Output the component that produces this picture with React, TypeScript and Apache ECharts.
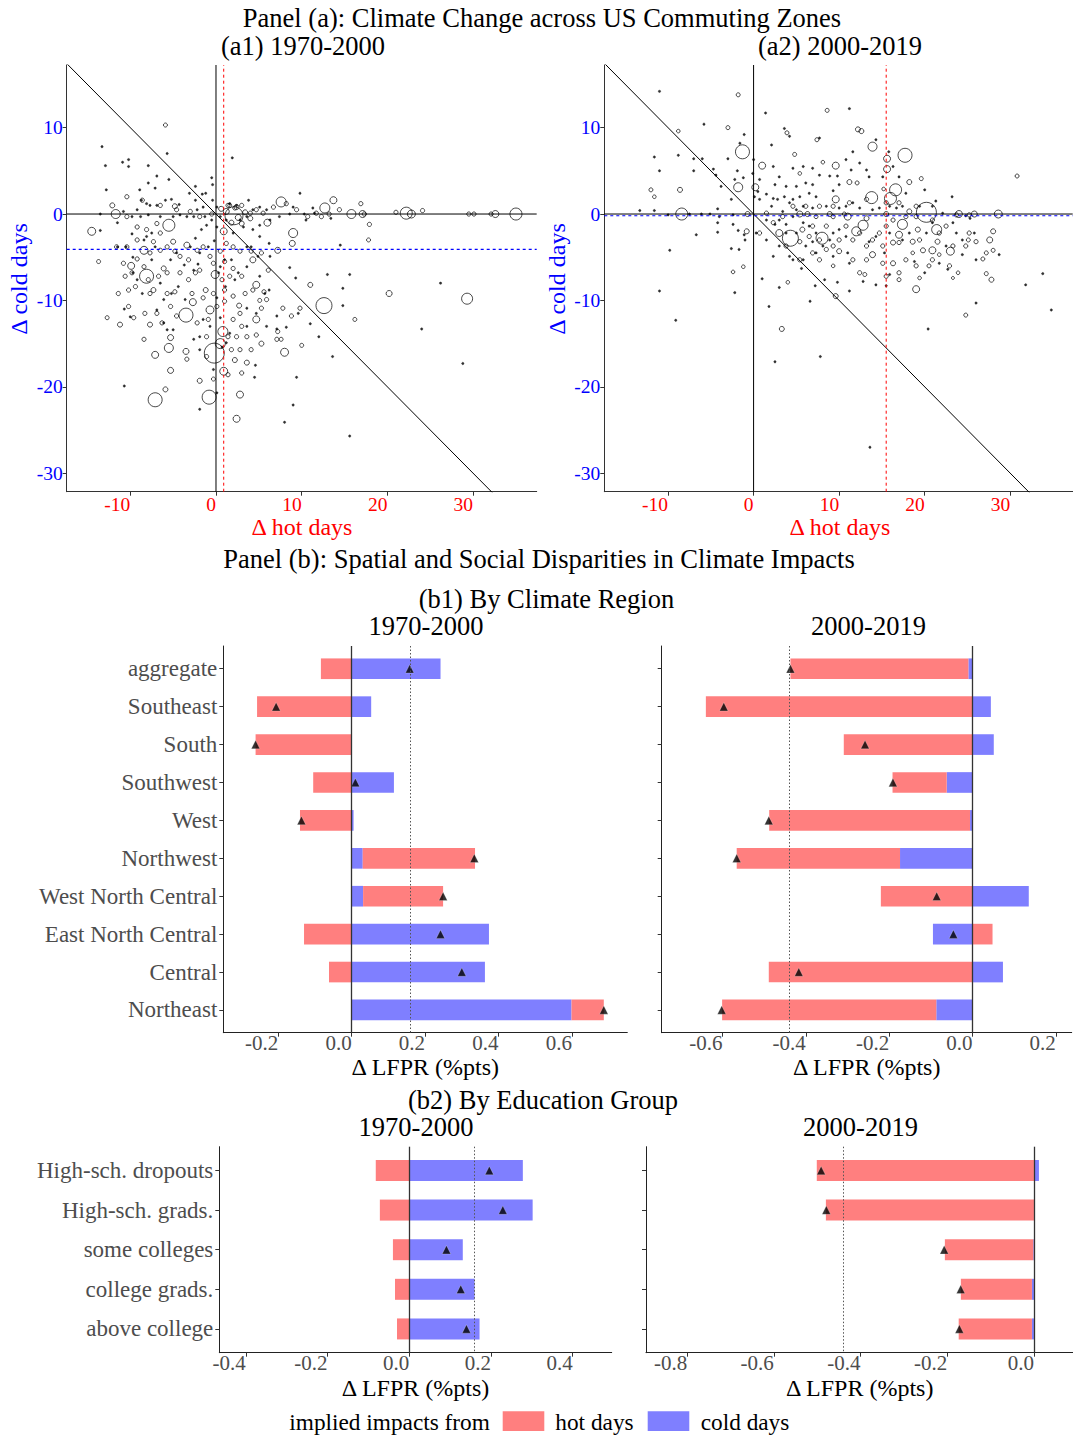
import React, { useEffect, useRef } from "react";
import * as echarts from "echarts";

const SERIF = '"Liberation Serif", "Times New Roman", Times, serif';

// ---------------- Panel (a): commuting-zone climate change ----------------
// point: [Δ hot days, Δ cold days, population weight (marker radius)]
const cz7000Big: number[][] = [
  [-0.2,-16.1,10],[2.1,-0.2,9],[12.6,-10.6,8],[-7.1,-21.5,7],[-0.8,-21.2,7],[-3.5,-11.7,7],[-8.1,-7.2,7],[-5.5,-1.3,6],
  [29.3,-9.8,5.5],[22.2,0.1,6],[35.0,0,6],[7.6,1.4,5],[0.8,-13.6,5],[0.5,-15.0,5],[9.0,-2.2,4.5],[-11.7,0,4.5],[12.7,0.7,5],
  [15.8,0,4.5],[-8.4,-4.2,4],[-5.5,-15.5,4.5],[8.0,-16.0,4],[-14.5,-2.0,4],[22.8,0,4],[32.6,0,3.5],[-0.1,-7.0,4],[2.4,-23.7,3.5],
  [2.8,-20.9,3.5],[0.9,-2.0,3.5],[-0.7,-11.1,4],[-2.7,-10.2,3.5],[4.7,-12.2,3.5],[4.7,-8.2,3.5],[-7.1,-16.3,3.5],[0.9,-18.2,4],
  [-9.9,-6.0,3.5],[13.7,1.6,3.5],[17.1,0,3.5],[6.0,-1.0,3.5],[7.2,-4.2,3],[20.2,-9.2,3],[11.0,-8.2,2.5],[4.3,-5.3,3],[-3.5,-15.9,3],
  [-5.3,-18.1,3],[-5.9,-20.3,2.5],[-1.9,-19.3,2.5],[5.3,-15.0,2.5],[8.9,-3.4,3],[-12.1,1.0,2.5],[-7.7,-12.8,2.5],[-11.2,-12.8,2.5],
  [-12.7,-12.0,2],[-13.7,-5.5,2],[-7.3,-8.8,2.5],[2.7,-10.6,2.5],[3.6,-17.2,2.5],[2.2,-16.9,2.5],[10.0,-15.2,2],[16.2,-12.2,2],
  [17.8,-3.0,2],[-5.9,10.3,2],[-0.3,-19.1,2],[-4.8,0.9,2.5],[-3.4,-3.6,3],[-6.1,-6.3,2.5],[-1.2,-8.8,2.5],[7.6,-14.5,2],
  [-5.3,-14.3,3],[5.1,-10.0,2],[-5.0,-3.2,2.5],[1.2,0.3,3],[2.6,-0.4,3],[3.4,0.2,2.5],[1.8,-1.0,2.5],[3.0,-1.1,2.5],[0.6,0.6,2.5],
  [2.4,0.8,2.5],[4.0,-0.5,2.5],[1.6,1.0,2]
];
const cz7000Mid: number[][] = [
  [-10.4,2.0],[-8.6,1.6],[-6.5,1.0],[-4.6,0.5],[-3.0,0.3],[-1.9,-0.3],[-0.5,0],[1.4,1.0],[2.2,0.7],[3.0,1.0],[4.0,0.1],[4.7,0.5],
  [5.5,0.1],[6.7,0.8],[8.2,1.2],[9.4,0.5],[10.7,-0.3],[11.7,0.1],[12.3,-0.3],[13.2,0],[14.4,0.5],[16.9,1.2],[17.3,0],[17.9,-1.2],
  [21.0,0.2],[24.1,0.4],[29.5,0],[30.1,0],[32.1,0],[-10.4,-0.3],[-9.2,-1.5],[-8.1,-1.8],[-6.9,-1.1],[-6.5,-2.2],[-7.3,-3.2],
  [-9.2,-3.0],[-10.4,-3.8],[-11.6,-3.8],[-10.8,-5.7],[-9.8,-6.8],[-9.4,-8.4],[-10.2,-8.8],[-8.4,-6.1],[-9.2,-5.2],[-7.7,-4.5],
  [-6.5,-4.2],[-5.7,-3.8],[-4.8,-4.3],[-4.2,-4.9],[-3.2,-5.3],[-2.2,-4.2],[-1.5,-3.8],[-0.7,-4.9],[-0.3,-5.7],[-1.9,-6.5],
  [-2.4,-6.8],[-3.2,-7.6],[-4.2,-6.8],[-5.7,-6.8],[-6.7,-7.2],[-7.9,-7.6],[-7.7,-9.2],[-5.7,-9.2],[-4.8,-9.0],[-2.8,-9.2],
  [-1.5,-9.7],[-0.3,-9.2],[1.0,-8.8],[2.0,-9.5],[3.4,-9.2],[4.3,-8.8],[5.6,-9.0],[5.9,-9.9],[5.3,-10.9],[2.8,-11.5],[2.0,-12.2],
  [3.0,-13.0],[1.4,-14.2],[2.4,-14.2],[3.6,-14.2],[4.7,-14.0],[7.2,-13.6],[7.8,-10.9],[9.8,-10.9],[6.1,-6.5],[5.3,-4.5],[4.1,-4.3],
  [2.8,-4.3],[2.0,-3.8],[1.2,-3.4],[0.5,-4.3],[1.0,-5.5],[2.0,-6.3],[3.0,-7.2],[1.6,-7.2],[0.7,-7.6],[0.1,-10.7],[1.0,-10.1],
  [-0.9,-12.2],[-2.2,-12.6],[-1.1,-14.2],[-4.6,-11.8],[-5.3,-10.7],[-6.3,-12.6],[-6.9,-11.5],[-8.3,-11.5],[-9.6,-12.0],[-10.6,-7.2],
  [-11.4,-9.2],[-10.2,-10.7],[-8.4,-14.5],[-1.1,-16.5],[-3.4,-16.8],[1.8,-15.7],[2.8,-15.7],[4.1,-15.7],[7.1,-14.5],[8.8,-11.8],
  [3.0,-18.4],[1.4,-18.6]
];
const cz7000Tiny: number[][] = [
  [-13.3,7.8],[-12.9,5.6],[-12.8,2.8],[-10.9,6.0],[-10.2,6.3],[-10.2,5.5],[-7.9,5.6],[-5.7,7.0],[-6.9,4.4],[-5.5,4.0],[-7.9,3.6],
  [-8.9,2.8],[-7.1,3.0],[-0.5,4.2],[-0.4,3.4],[1.9,6.5],[-2.4,3.2],[-1.2,2.4],[-1.6,2.3],[9.8,2.4],[14.5,-3.6],[13.0,-7.0],
  [15.6,-7.0],[14.8,-8.6],[14.8,-10.6],[26.2,-8.0],[24.0,-13.3],[28.8,-17.3],[15.6,-25.7],[9.0,-22.1],[8.0,-24.1],[9.4,-18.9],
  [13.6,-16.5],[12.0,-14.2],[11.0,-12.7],[9.6,-11.5],[8.2,-13.1],[7.1,-13.3],[4.6,-17.5],[4.5,-18.9],[-10.7,-19.9],[-10.7,-11.0],
  [-10.0,-11.9],[-13.5,-1.9],[-13.5,0],[-11.5,-1.0],[-11.5,-3.8],[-10.5,-3.8],[-9.7,-5.0],[-9.8,-2.3],[-8.7,1.6],[-7.7,1.0],
  [-6.9,1.0],[-5.2,1.7],[-4.3,1.1],[-3.1,2.4],[-2.4,1.6],[-1.5,0.8],[-0.4,1.6],[1.0,-5.3],[0.5,-6.1],[0.3,-6.8],[1.1,-8.4],
  [0.1,-9.7],[0.5,-12.0],[0.7,-15.4],[1.6,-13.8],[6.2,-8.8],[9.3,-7.4],[8.6,-6.2],[6.3,-4.9],[5.1,-2.6],[6.2,-3.4],[3.6,-3.8],
  [3.6,-6.1],[2.6,-6.8],[-0.2,-3.1],[-0.9,-3.8],[-1.9,-4.5],[-2.1,-5.8],[-2.6,-6.5],[-4.4,-8.4],[-5.2,-9.2],[-6.1,-9.9],[-6.9,-11.1],
  [-8.6,-9.2],[-9.2,-7.6],[-9.7,-6.8],[-8.1,-2.6],[-7.1,-3.8],[-5.3,-5.3],[-4.6,-4.5],[-3.7,-5.9],[-3.0,-3.8],[-2.4,-2.8],
  [-1.7,-1.8],[-1.1,-1.3],[-0.5,-0.7],[0.1,-1.5],[0.5,-0.3],[1.2,-0.7],[2.8,-0.7],[3.6,-0.3],[4.3,0.5],[5.1,0.8],[5.9,0.5],
  [9.0,0.8],[10.5,-0.7],[11.3,0.7],[11.5,0.1],[5.1,-1.3],[4.3,-1.8],[3.2,-1.5],[2.0,-2.2],[4.1,-3.8],[4.9,-4.9],[1.8,-5.3],
  [2.2,-7.6],[5.1,-7.2],[5.7,-9.2],[3.6,-10.9],[4.7,-11.5],[7.1,-11.8],[5.9,-13.0],[3.6,-13.0],[1.2,-14.9],[-0.7,-13.0],
  [-1.5,-12.2],[-3.6,-9.9],[-6.1,-12.6],[-5.7,-13.4],[-2.6,-14.5],[-1.9,-14.2],[-1.9,-15.7],[-0.3,-18.0],[0.1,-20.7],[-1.9,-22.6],
  [-5.0,-13.4],[-6.5,-8.0],[-7.5,-5.3],[-8.4,-3.0],[-7.5,-2.2],[-6.5,-0.3],[-7.9,-0.1],[-8.8,-0.3],[-9.8,-0.3],[-10.8,0.3],
  [-9.2,0.5],[-8.1,1.2],[-5.9,1.6],[-5.0,-0.3],[-4.2,-0.1],[-3.4,-0.3],[-2.6,-0.3],[-2.2,0.5],[-1.3,-0.3],[0.1,0.8],[1.6,1.2],
  [2.4,1.0],[3.8,1.6],[6.3,-0.7],[7.4,-0.3],[8.6,0],[10.3,0],[13.4,-0.5]
];

const cz0019Big: number[][] = [
  [20.2,0.2,10],[4.3,-2.8,8],[-1.3,7.2,7],[17.7,6.8,7],[16.6,2.8,6],[-8.4,0,6],[16.0,1.8,6],[13.9,7.8,4.5],[13.8,1.9,6],
  [8.0,-2.8,6],[17.4,-1.2,5],[21.4,-1.8,5],[12.8,-1.3,5],[12.0,-2.0,4.5],[-1.8,3.1,4.5],[28.6,0,4],[23.0,-4.3,4],[19.0,-8.7,3.5],
  [15.6,6.4,3.5],[15.6,5.2,3.5],[9.6,1.7,3.5],[9.6,5.6,3.5],[1.0,5.6,3.5],[0.2,3.1,3.5],[3.0,-2.2,3.5],[20.9,-4.2,3.5],[24.0,0,3.5],
  [25.8,0,3],[27.6,-3.0,3],[28.0,-2.0,2.5],[27.8,-7.6,2.5],[27.2,-6.9,2],[26.8,-5.2,2],[27.2,-4.5,2],[28.0,-4.2,2],[13.9,-4.7,3],
  [16.3,-5.7,2.5],[17.0,-7.6,2],[13.0,-7.0,2],[11.2,3.7,2.5],[18.2,3.7,2.5],[19.6,4.1,2],[3.3,-13.3,2.5],[9.6,-9.5,2.5],
  [-8.6,2.8,2.5],[-3.0,10.0,2],[-1.8,13.8,2],[8.6,12.0,2],[12.2,9.8,2.5],[12.6,9.6,2.5],[7.4,8.6,2],[3.9,9.4,2],[30.8,4.4,2],
  [25.1,-3.0,2],[24.8,-11.7,2],[4.0,-7.9,1.8],[-1.2,-6.1,1.8],[-2.4,-6.7,1.8],[-8.8,9.6,1.8],[-12.0,2.8,2],[-11.6,2.0,1.8],
  [-0.8,-2.0,2.5],[-0.7,0,2.5],[5.4,0,3],[5.7,-1.8,2.5],[10.0,-4.3,2.5],[9.3,-6.0,1.8],[18.6,-4.5,1.8],[19.8,-4.2,2.5],
  [20.5,-6.0,2],[21.7,-4.7,1.8],[23.9,-6.8,1.8],[23.3,-7.4,1.5],[19.4,-7.4,1.8],[4.8,6.9,2],[5.4,4.7,1.8],[8.1,6.0,1.8],
  [12.1,3.6,2],[15.2,2.9,1.8],[18.2,0.3,2.5],[17.0,-2.4,3.5],[19.2,-1.8,2.5],[16.3,-3.3,2.5],[18.6,-3.2,2.5],[21.5,-3.2,2.5],
  [6.3,0,2.5],[7.3,-0.3,2],[8.9,0,2.5],[10.6,0,2],[11.0,-0.3,3.5],[13.2,-0.5,2.5],[15.5,0,2.5]
];
const cz0019Mid: number[][] = [
  [2.3,-1.0],[3.4,-0.3],[6.9,-1.4],[9.3,-0.3],[10.0,-3.0],[11.6,-3.0],[12.4,-2.2],[14.7,-2.2],[15.5,-1.4],[16.3,-0.7],[17.8,-0.3],
  [19.0,-0.3],[20.9,-0.7],[22.5,-1.4],[23.3,-3.7],[21.7,-2.2],[19.4,-3.0],[17.0,-3.3],[15.1,-3.7],[13.9,-3.0],[13.2,-3.7],
  [10.8,-1.4],[8.5,-1.4],[6.5,-2.6],[5.4,-3.2],[7.7,-3.0],[9.3,-3.7],[6.9,-4.5],[8.5,-4.1],[11.6,-5.3],[13.2,-5.3],[15.1,-5.7],
  [17.8,-5.3],[20.9,-5.3],[19.0,-6.0],[22.9,-6.0],[24.8,-3.7],[25.2,-2.2],[26.0,-3.2],[23.7,-0.1],[25.2,-0.1],[15.5,1.3],
  [17.0,1.3],[19.0,0.9],[13.2,1.7],[11.2,1.3],[9.3,0.9],[7.7,0.9],[6.1,0.9],[4.6,0.9],[1.5,0.1],[0.7,-2.2],[5.4,-5.3],[3.8,-3.7],
  [7.7,-5.3],[12.4,-6.8],[15.5,-7.2],[17.0,-6.8]
];
const cz0019Tiny: number[][] = [
  [-11.0,14.2],[-5.8,10.4],[-1.1,9.2],[-1.6,8.2],[0,6.3],[-3.0,6.4],[-6.0,6.4],[-7.0,6.4],[-8.8,6.8],[-11.6,6.6],[-11.0,5.0],
  [-7.0,5.0],[-4.7,5.2],[-4.4,4.5],[-1.9,5.0],[-1.2,4.2],[-2.2,4.0],[-3.8,3.2],[-2.6,1.7],[-4.2,0.6],[-13.3,0.4],[-11.6,0.4],
  [-10.0,-0.1],[-7.5,0],[-6.1,0],[-5.1,0],[-4.0,-0.3],[-2.4,-0.1],[-2.4,-1.2],[-1.8,-1.9],[-1.1,-2.4],[-1.0,-3.0],[-1.7,-4.1],
  [-2.6,-4.0],[-4.2,-1.0],[-4.2,-2.1],[-6.7,-2.4],[-9.8,-4.2],[-11.0,-8.9],[-9.1,-12.3],[-2.2,-9.1],[1.0,-7.5],[1.8,-10.7],
  [2.5,-17.1],[3.0,-8.5],[4.6,-5.3],[5.6,-6.3],[6.6,-10.1],[7.2,-8.3],[7.8,-16.5],[8.3,-7.6],[9.8,-7.9],[11.2,-8.9],[13.6,-27.0],
  [20.4,-13.3],[26.0,-10.3],[31.8,-8.2],[33.8,-6.9],[34.8,-11.1],[23.2,2.0],[25.3,-0.5],[23.7,-2.2],[24.4,-3.0],[22.5,-3.7],
  [21.7,-5.7],[22.7,-6.4],[20.0,-6.8],[18.8,-5.5],[15.3,-4.5],[15.9,-7.0],[14.3,-8.2],[15.5,-8.3],[12.8,-7.8],[11.2,-5.7],
  [11.0,-4.5],[9.3,-4.9],[7.3,-4.5],[6.1,-3.7],[3.0,-3.7],[1.5,-3.0],[0.3,-2.2],[1.5,-0.7],[3.0,-0.7],[3.8,-1.2],[4.6,-0.3],
  [5.0,0.5],[5.8,0.9],[6.9,0.7],[8.5,0.9],[10.0,0.7],[10.8,0.9],[11.6,1.3],[12.4,0.7],[13.9,0.5],[14.7,0.7],[15.9,0.9],[16.7,0.7],
  [17.4,0.9],[19.4,0.9],[20.9,0.9],[22.1,0.1],[24.8,-0.2],[20.9,-1.0],[20.2,-2.2],[18.2,-2.2],[17.4,-3.0],[15.9,-2.2],[14.3,-2.6],
  [13.5,-3.2],[10.8,-2.6],[10.0,-1.8],[9.3,-2.2],[8.9,-3.0],[8.1,-3.7],[7.3,-2.2],[6.5,-1.4],[5.8,-1.0],[5.0,-2.2],[3.8,-2.2],
  [6.9,-3.2],[5.8,-5.3],[4.2,-4.9],[2.3,-4.9],[2.5,-1.2],[3.4,0.3],[4.2,1.3],[3.6,2.0],[2.3,1.8],[2.5,3.4],[1.5,2.3],[0.7,1.7],
  [2.1,0.9],[2.8,1.7],[3.8,3.2],[5.0,3.2],[6.1,3.6],[6.9,3.4],[7.7,4.5],[8.9,4.4],[9.8,4.4],[6.5,2.4],[7.3,2.0],[5.4,2.0],
  [4.6,1.7],[9.3,2.7],[10.0,3.4],[11.4,5.1],[10.8,6.3],[11.6,7.2],[12.4,5.9],[13.2,5.1],[13.5,4.3],[14.3,8.6],[15.8,7.2],
  [15.1,4.3],[16.3,5.5],[17.0,4.3],[17.8,2.4],[20.0,2.8],[21.3,1.5],[23.3,-1.0],[25.8,-2.2],[24.4,-4.7],[26.0,-5.3],[28.7,-4.7],
  [11.2,12.2],[7.7,8.8],[3.6,9.9],[4.2,9.0],[5.8,5.5],[6.9,5.3],[4.6,5.3],[3.0,4.3],[2.3,5.5],[2.1,8.0],[1.4,11.7],[-0.1,4.7],
  [0.7,4.0],[0.5,2.6],[0.1,2.0]
];
const midWeight = 2.1;
const tinyWeight = 1.2;

const meanHotDays = [0.9, 15.5];
const meanColdDays = [-4.1, -0.2];
const scatterXTicks = [-10, 0, 10, 20, 30];
const scatterYTicks = [-30, -20, -10, 0, 10];
const scatterYRange = [-32.14, 17.25];

// ---------------- Panel (b): implied LFPR impacts ----------------
const regions = ["aggregate", "Southeast", "South", "Southwest", "West", "Northwest",
  "West North Central", "East North Central", "Central", "Northeast"];
const regionCold7000 = [0.242, 0.053, -0.002, 0.115, 0.005, 0.030, 0.031, 0.374, 0.363, 0.599];
const regionHot7000 = [-0.084, -0.258, -0.260, -0.105, -0.141, 0.306, 0.218, -0.130, -0.062, 0.088];
const regionTotal7000 = [0.158, -0.206, -0.262, 0.010, -0.137, 0.334, 0.249, 0.242, 0.300, 0.687];
const regionCold0019 = [-0.010, 0.044, 0.051, -0.062, -0.006, -0.174, 0.135, -0.095, 0.073, -0.087];
const regionHot0019 = [-0.427, -0.640, -0.309, -0.130, -0.482, -0.392, -0.220, 0.048, -0.489, -0.514];
const regionTotal0019 = [-0.437, -0.597, -0.258, -0.191, -0.489, -0.566, -0.086, -0.046, -0.417, -0.602];

const eduGroups = ["High-sch. dropouts", "High-sch. grads.", "some colleges", "college grads.", "above college"];
const eduCold7000 = [0.278, 0.302, 0.131, 0.160, 0.172];
const eduHot7000 = [-0.082, -0.072, -0.040, -0.035, -0.030];
const eduTotal7000 = [0.196, 0.229, 0.091, 0.126, 0.140];
const eduCold0019 = [0.0115, 0.001, -0.0015, -0.0046, -0.0046];
const eduHot0019 = [-0.501, -0.480, -0.204, -0.164, -0.169];
const eduTotal0019 = [-0.491, -0.479, -0.207, -0.169, -0.172];

const aggregate7000 = 0.158;
const aggregate0019 = -0.437;

const b1LTicks = [-0.2, 0, 0.2, 0.4, 0.6];
const b1RTicks = [-0.6, -0.4, -0.2, 0, 0.2];
const b2LTicks = [-0.4, -0.2, 0, 0.2, 0.4];
const b2RTicks = [-0.8, -0.6, -0.4, -0.2, 0];

// ---------------- styles ----------------
const RED = "#FF0000";
const BLUE = "#0000FF";
const BAR_RED = "#FF7F7F";
const BAR_BLUE = "#7F7FFF";
const GREY_TXT = "#4D4D4D";
const AXIS_COL = "#333333";
const TITLE_SIZE = 26.5;

function withWeight(pts: number[][], w: number) {
  return pts.map((p) => [p[0], p[1], w]);
}

function scatterAxes(gi: number, xMin: number, xMax: number) {
  const x = {
    type: "value", gridIndex: gi, min: xMin, max: xMax,
    axisLine: { show: true, onZero: false, lineStyle: { color: AXIS_COL, width: 1 } },
    axisTick: { show: true, length: 4, customValues: scatterXTicks, lineStyle: { color: AXIS_COL } },
    axisLabel: { customValues: scatterXTicks, color: RED, fontFamily: SERIF, fontSize: 19.5, align: "right", margin: 3 },
    splitLine: { show: false },
  };
  const y = {
    type: "value", gridIndex: gi, min: scatterYRange[0], max: scatterYRange[1],
    axisLine: { show: true, onZero: false, lineStyle: { color: AXIS_COL, width: 1 } },
    axisTick: { show: true, length: 4, customValues: scatterYTicks, lineStyle: { color: AXIS_COL } },
    axisLabel: { customValues: scatterYTicks, color: BLUE, fontFamily: SERIF, fontSize: 19.5, margin: 4 },
    splitLine: { show: false },
  };
  return { x, y };
}

function refLine(ai: number, data: number[][], color: string, width: number, type: any, z: number) {
  return {
    type: "line", xAxisIndex: ai, yAxisIndex: ai, silent: true, showSymbol: false, symbol: "none",
    data, clip: true, lineStyle: { color, width, type }, z,
  };
}

function scatterSeries(ai: number, big: number[][], mid: number[][], tiny: number[][], xMin: number, xMax: number, hot: number, cold: number) {
  const [yMin, yMax] = scatterYRange;
  const fmt = (v: number) => (v > 0 ? "+" : "") + v + "days";
  return [
    {
      type: "scatter", xAxisIndex: ai, yAxisIndex: ai, data: withWeight(tiny, tinyWeight), silent: true,
      symbol: "circle", symbolSize: (v: number[]) => v[2] * 2,
      itemStyle: { color: "#000", borderColor: "#000", borderWidth: 0.4 },
      z: 2,
    },
    {
      type: "scatter", xAxisIndex: ai, yAxisIndex: ai, data: [...withWeight(mid, midWeight), ...big], silent: true,
      symbol: "circle", symbolSize: (v: number[]) => v[2] * 2,
      itemStyle: { color: "rgba(0,0,0,0)", borderColor: "#000", borderWidth: 0.9 },
      z: 2,
    },
    refLine(ai, [[xMin, -xMin], [xMax, -xMax]], "#000", 1, "solid", 3),
    refLine(ai, [[0, yMin], [0, yMax]], "#000", 1, "solid", 3),
    refLine(ai, [[xMin, 0], [xMax, 0]], "#000", 1, "solid", 3),
    refLine(ai, [[hot, yMin], [hot, yMax]], RED, 1, [3, 3], 4),
    refLine(ai, [[xMin, cold], [xMax, cold]], BLUE, 1.2, [3, 3], 4),
    {
      type: "scatter", xAxisIndex: ai, yAxisIndex: ai, silent: true, symbolSize: 1,
      itemStyle: { opacity: 0 }, z: 5,
      data: [
        { value: [hot, 15], label: { show: true, position: "inside", formatter: fmt(hot), color: RED, fontFamily: SERIF, fontSize: 25 } },
        { value: [30, cold + 2], label: { show: true, position: "inside", formatter: fmt(cold), color: BLUE, fontFamily: SERIF, fontSize: 25 } },
      ],
    },
  ];
}

function barAxes(gi: number, xMin: number, xMax: number, ticks: number[], cats: string[], showCats: boolean) {
  const n = cats.length;
  const idx = cats.map((_, i) => i);
  const x = {
    type: "value", gridIndex: gi, min: xMin, max: xMax,
    axisLine: { show: true, onZero: false, lineStyle: { color: "#222", width: 1 } },
    axisTick: { show: true, length: 4, customValues: ticks, lineStyle: { color: AXIS_COL } },
    axisLabel: {
      customValues: ticks, color: GREY_TXT, fontFamily: SERIF, fontSize: 21, align: "right", margin: 0,
      formatter: (v: number) => v.toFixed(1),
    },
    splitLine: { show: false },
  };
  const y = {
    type: "value", gridIndex: gi, min: -0.6, max: n - 0.4, inverse: true,
    axisLine: { show: true, onZero: false, lineStyle: { color: "#222", width: 1 } },
    axisTick: { show: true, length: 4, customValues: idx, lineStyle: { color: AXIS_COL } },
    axisLabel: {
      show: showCats, customValues: idx, color: GREY_TXT, fontFamily: SERIF, fontSize: 23, margin: 6,
      formatter: (v: number) => cats[Math.round(v)] ?? "",
    },
    splitLine: { show: false },
  };
  return { x, y };
}

function barSeries(ai: number, cold: number[], hot: number[], total: number[], agg: number, barW: number) {
  const blueData = cold.map((c, i) => [i, 0, c]);
  const redData = hot.map((h, i) => {
    const c = cold[i];
    const start = c !== 0 && Math.sign(c) === Math.sign(h) ? c : 0;
    return [i, start, start + h];
  });
  const mk = (data: number[][], color: string) => ({
    type: "custom", xAxisIndex: ai, yAxisIndex: ai, silent: true, data, z: 2,
    renderItem: (_p: any, api: any) => {
      const i = api.value(0);
      const a = api.coord([api.value(1), i]);
      const b = api.coord([api.value(2), i]);
      const h = Math.abs(api.size([0, barW])[1]);
      return {
        type: "rect",
        shape: { x: Math.min(a[0], b[0]), y: a[1] - h / 2, width: Math.abs(b[0] - a[0]), height: h },
        style: { fill: color },
      };
    },
  });
  return [
    mk(blueData, BAR_BLUE),
    mk(redData, BAR_RED),
    {
      type: "scatter", xAxisIndex: ai, yAxisIndex: ai, silent: true, z: 3, data: [],
      markLine: {
        silent: true, symbol: ["none", "none"], label: { show: false },
        data: [
          { xAxis: 0, lineStyle: { color: "#333", width: 1.3, type: "solid" } },
          { xAxis: agg, lineStyle: { color: "#555", width: 1, type: [1.5, 2] } },
        ],
      },
    },
    {
      type: "scatter", xAxisIndex: ai, yAxisIndex: ai, silent: true, z: 4,
      data: total.map((t, i) => [t, i]),
      symbol: "triangle", symbolSize: 8.5,
      itemStyle: { color: "#000", borderColor: "#fff", borderWidth: 0.3 },
    },
  ];
}

function txt(text: string, x: number, y: number, size: number, color = "#000", rotate = false) {
  return {
    type: "text", x, y, rotation: rotate ? Math.PI / 2 : 0, silent: true,
    style: {
      text, x: 0, y: 0, fill: color, fontFamily: SERIF, fontSize: size, lineHeight: Math.round(size * 0.9),
      align: "center", verticalAlign: "middle", textAlign: "center", textVerticalAlign: "middle",
    },
  };
}
function ltxt(text: string, x: number, y: number, size: number) {
  return {
    type: "text", x, y, silent: true,
    style: {
      text, x: 0, y: 0, fill: "#000", fontFamily: SERIF, fontSize: size,
      align: "left", verticalAlign: "middle", textAlign: "left", textVerticalAlign: "middle",
    },
  };
}

export default function App() {
  const ref = useRef<HTMLDivElement>(null);
  useEffect(() => {
    document.body.style.margin = "0";
    if (!ref.current) return;
    const chart = echarts.init(ref.current, undefined, { renderer: "svg" });

    const a1 = scatterAxes(0, -17.42, 37.42);
    const a2 = scatterAxes(1, -17.45, 37.3);
    const b1L = barAxes(2, -0.35, 0.751, b1LTicks, regions, true);
    const b1R = barAxes(3, -0.746, 0.238, b1RTicks, regions, false);
    const b2L = barAxes(4, -0.465, 0.4955, b2LTicks, eduGroups, true);
    const b2R = barAxes(5, -0.895, 0.0908, b2RTicks, eduGroups, false);

    const g = (left: number, top: number, width: number, height: number) => ({
      left, top, width, height, containLabel: false, outerBoundsMode: "none",
    });

    const option: any = {
      animation: false,
      backgroundColor: "#ffffff",
      grid: [
        g(66.7, 65, 470, 426.7),
        g(604.3, 65, 468.4, 426.7),
        g(223.3, 646, 404, 386.7),
        g(661.7, 646, 410, 386.7),
        g(219.3, 1146.7, 392.4, 206),
        g(646, 1146.7, 427.3, 206),
      ],
      xAxis: [a1.x, a2.x, b1L.x, b1R.x, b2L.x, b2R.x],
      yAxis: [a1.y, a2.y, b1L.y, b1R.y, b2L.y, b2R.y],
      series: [
        ...scatterSeries(0, cz7000Big, cz7000Mid, cz7000Tiny, -17.42, 37.42, meanHotDays[0], meanColdDays[0]),
        ...scatterSeries(1, cz0019Big, cz0019Mid, cz0019Tiny, -17.45, 37.3, meanHotDays[1], meanColdDays[1]),
        ...barSeries(2, regionCold7000, regionHot7000, regionTotal7000, aggregate7000, 0.545),
        ...barSeries(3, regionCold0019, regionHot0019, regionTotal0019, aggregate0019, 0.545),
        ...barSeries(4, eduCold7000, eduHot7000, eduTotal7000, aggregate7000, 0.53),
        ...barSeries(5, eduCold0019, eduHot0019, eduTotal0019, aggregate0019, 0.53),
      ],
      graphic: {
        elements: [
          txt("Panel (a): Climate Change across US Commuting Zones", 542, 18, TITLE_SIZE),
          txt("(a1) 1970-2000", 303, 45.5, TITLE_SIZE),
          txt("(a2) 2000-2019", 840, 45.5, TITLE_SIZE),
          txt("Δ hot days", 302, 527, 24, RED),
          txt("Δ hot days", 840, 527, 24, RED),
          txt("Δ cold days", 19, 279, 24, BLUE, true),
          txt("Δ cold days", 557, 279, 24, BLUE, true),
          txt("Panel (b): Spatial and Social Disparities in Climate Impacts", 539, 559, TITLE_SIZE),
          txt("(b1) By Climate Region", 546.5, 599, TITLE_SIZE),
          txt("1970-2000", 426, 626, TITLE_SIZE),
          txt("2000-2019", 868.5, 626, TITLE_SIZE),
          txt("Δ LFPR (%pts)", 425.3, 1067, 24),
          txt("Δ LFPR (%pts)", 866.7, 1067, 24),
          txt("(b2) By Education Group", 543, 1099.5, TITLE_SIZE),
          txt("1970-2000", 416, 1126.5, TITLE_SIZE),
          txt("2000-2019", 860.5, 1126.5, TITLE_SIZE),
          txt("Δ LFPR (%pts)", 415.5, 1388, 24),
          txt("Δ LFPR (%pts)", 859.7, 1388, 24),
          ltxt("implied impacts from", 289.3, 1421.5, 23.3),
          { type: "rect", silent: true, shape: { x: 502.7, y: 1411.3, width: 41.6, height: 19.7 }, style: { fill: BAR_RED } },
          ltxt("hot days", 555.3, 1421.5, 23.3),
          { type: "rect", silent: true, shape: { x: 647.7, y: 1411.3, width: 41.6, height: 19.7 }, style: { fill: BAR_BLUE } },
          ltxt("cold days", 700.7, 1421.5, 23.3),
        ],
      },
    };
    chart.setOption(option);
    return () => chart.dispose();
  }, []);
  return <div ref={ref} style={{ width: 1073, height: 1437 }} />;
}
